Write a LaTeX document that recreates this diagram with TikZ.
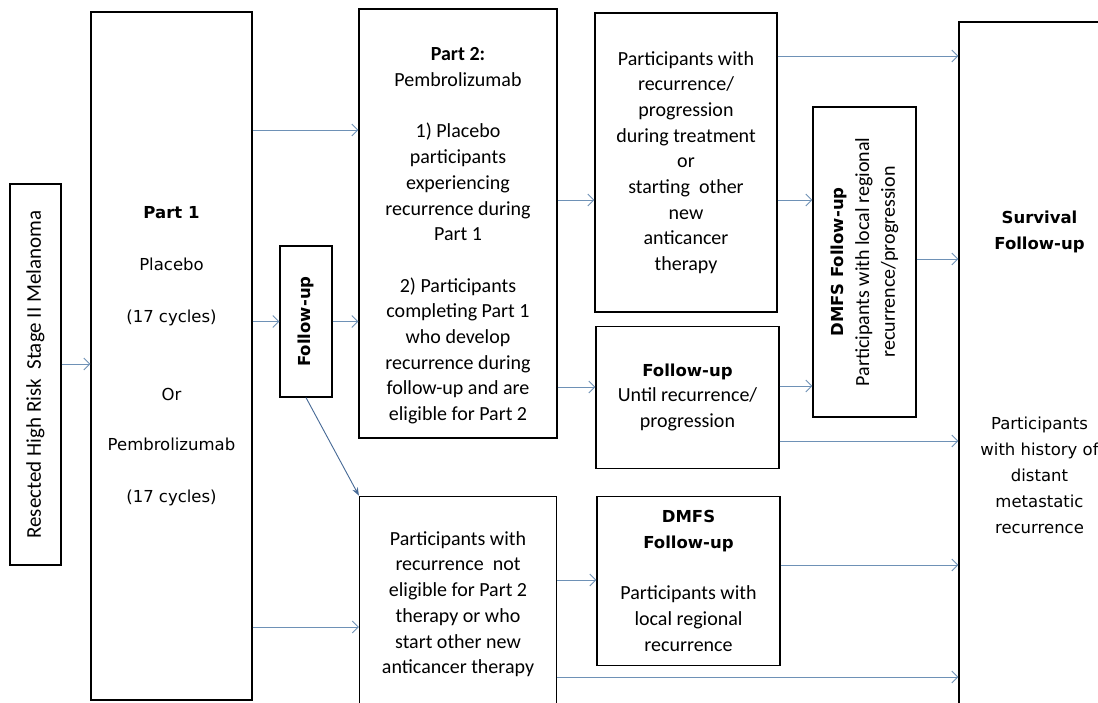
\documentclass[tikz,border=0pt]{standalone}
\usepackage{fontspec}
\setmainfont{Carlito}
\newfontfamily\verd{DejaVu Sans}
\usetikzlibrary{positioning, arrows.meta}

\definecolor{flow}{RGB}{110,145,182}
\definecolor{flowdark}{RGB}{70,105,150}
\newcommand\hd[1]{{\verd\fontsize{16.5}{25.5}\selectfont\bfseries #1}}

\begin{document}
\begin{tikzpicture}[x=1pt,y=-1pt,
  every node/.style={rectangle,align=center,inner sep=0pt,font=\fontsize{20}{25.7}\selectfont},
  box/.style={draw,line width=1.2pt},
  wide/.style={font=\verd\fontsize{16.5}{26}\selectfont},
  arr/.style={draw=flow,line width=0.9pt,-{Straight Barb[length=6pt,width=12pt]}},
  diag/.style={draw=flowdark,line width=0.9pt,-{Stealth[length=8pt,width=6pt]}}]
\fill[white](0,0) rectangle (1098,702);
\clip(0,0) rectangle (1098,702);
%
  \node(part1)[box,wide,minimum width=161pt,minimum height=688pt] at (171.5,356)
    {\textbf{Part 1}\\[26pt]Placebo\\[26pt](17 cycles)\\[52pt]Or\\[24pt]Pembrolizumab\\[26pt](17 cycles)};
  \node(res)[box,rotate=90,minimum width=381pt,minimum height=51pt,font=\fontsize{21}{25}\selectfont] at (35.5,374.5)
    {Resected High Risk~ Stage II Melanoma};
  \node(fu)[box,rotate=90,minimum width=151pt,minimum height=52pt] at (306,321.5) {\hd{Follow-up}};
%
  \node(part2)[box,minimum width=198pt,minimum height=429pt] at (458,223.5)
    {\rule{0pt}{38pt}\textbf{Part 2:}\\Pembrolizumab\\[25.7pt]1) Placebo\\participants\\experiencing\\recurrence during\\Part 1\\[25.7pt]2) Participants\\completing Part 1\\who develop\\recurrence during\\follow-up and are\\eligible for Part 2};
  \node(noelig)[box,below=57pt of part2,minimum width=197pt,minimum height=216pt]
    {Participants with\\recurrence~ not\\eligible for Part 2\\therapy or who\\start other new\\anticancer therapy};
%
  \node(recur)[box,minimum width=182pt,minimum height=299pt] at (686,162.5)
    {Participants with\\recurrence/\\progression\\during treatment\\or\\starting~ other\\new\\anticancer\\therapy};
  \node(fumid)[box,below=13pt of recur,xshift=1.5pt,minimum width=183pt,minimum height=142pt]
    {\hd{Follow-up}\\Until recurrence/\\progression};
  \node(dmfsb)[box,below=27pt of fumid,xshift=1pt,minimum width=183pt,minimum height=169pt]
    {\hd{DMFS}\\\hd{Follow-up}\\[25.7pt]Participants with\\local regional\\recurrence};
%
  \node(dmfsv)[box,rotate=90,minimum width=310pt,minimum height=103pt] at (864.5,262)
    {\hd{DMFS Follow-up}\\Participants with local regional\\recurrence/progression};
  \node(surv)[box,wide,minimum width=161pt,minimum height=700pt] at (1039.5,372)
    {\textbf{Survival}\\\textbf{Follow-up}\\[154pt]Participants\\with history of\\distant\\metastatic\\recurrence};
%
\draw[arr](res.south|-0,364)--(part1.west|-0,364);
\draw[arr](part1.east|-0,130)--(part2.west|-0,130);
\draw[arr](part1.east|-fu.center)--(fu.north);
\draw[arr](fu.south)--(fu.south-|part2.west);
\draw[arr](part1.east|-0,627)--(noelig.west|-0,627);
\draw[diag](fu.west)--(noelig.north west);
%
\draw[arr](part2.east|-0,200)--(recur.west|-0,200);
\draw[arr](part2.east|-0,387)--(fumid.west|-0,387);
\draw[arr](noelig.east|-0,580)--(dmfsb.west|-0,580);
\draw[arr](noelig.east|-0,677)--(surv.west|-0,677);
%
\draw[arr](recur.east|-0,56)--(surv.west|-0,56);
\draw[arr](recur.east|-0,200)--(dmfsv.north|-0,200);
\draw[arr](fumid.east|-0,386)--(dmfsv.north|-0,386);
\draw[arr](fumid.east|-0,441)--(surv.west|-0,441);
\draw[arr](dmfsb.east|-0,565)--(surv.west|-0,565);
\draw[arr](dmfsv.south|-0,259)--(surv.west|-0,259);
\end{tikzpicture}
\end{document}
